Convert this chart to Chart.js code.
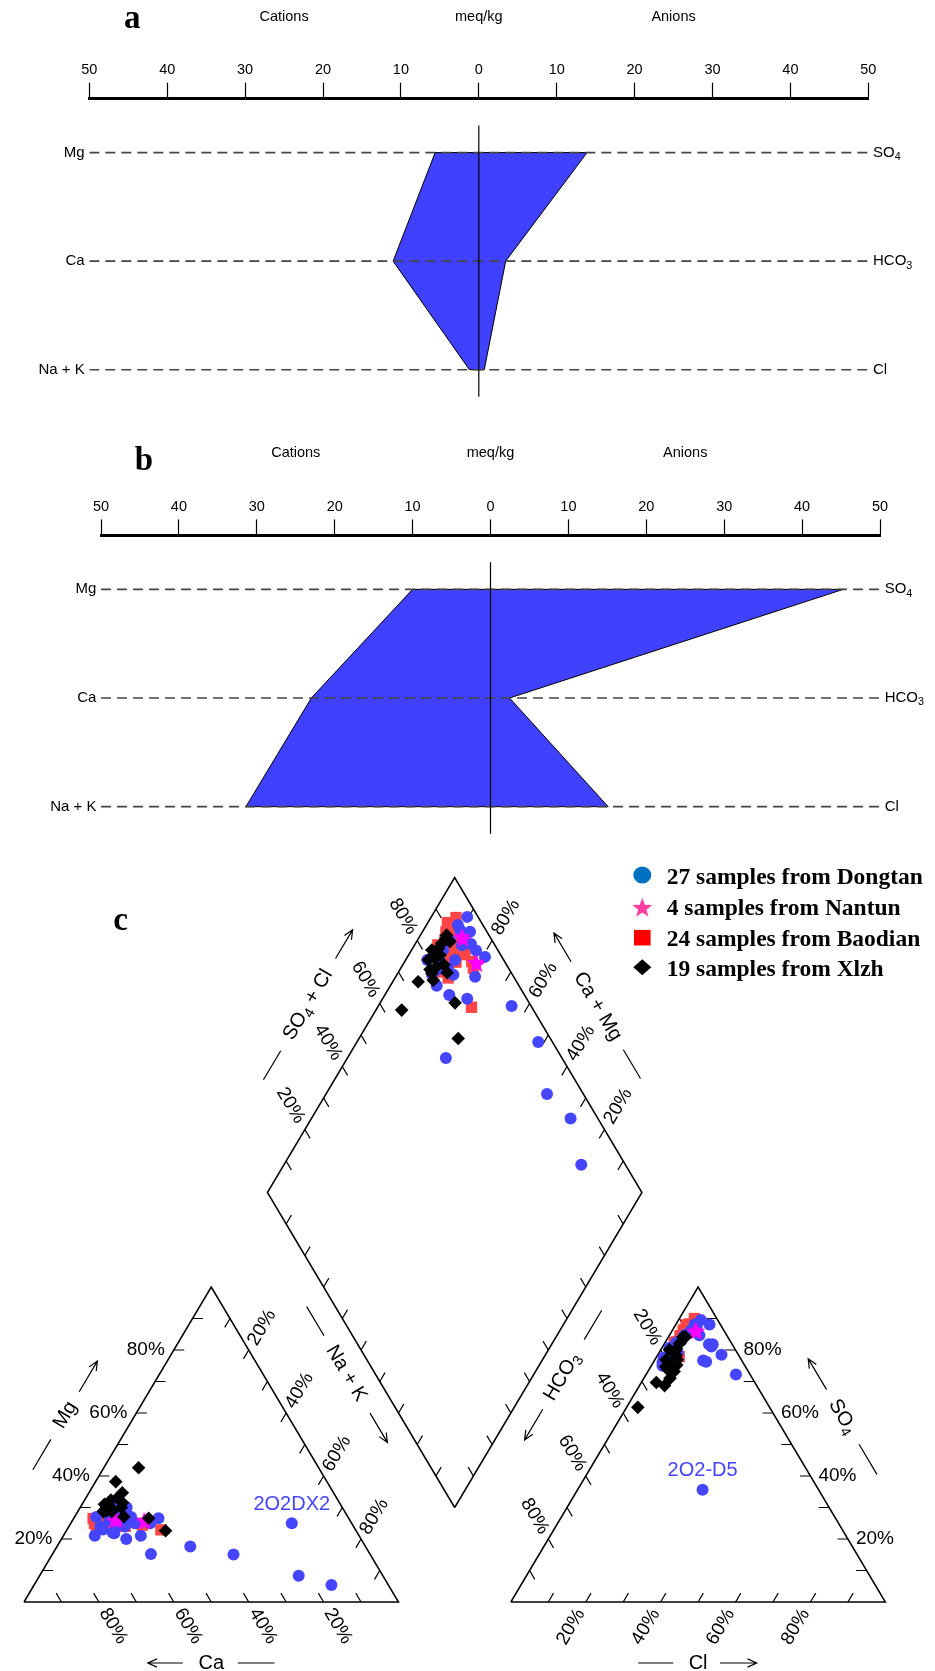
<!DOCTYPE html>
<html lang="en">
<head>
<meta charset="utf-8">
<title>Stiff and Piper diagrams</title>
<script src="https://cdn.jsdelivr.net/npm/chart.js@4.4.1/dist/chart.umd.min.js"></script>
<style>
  html, body { margin: 0; padding: 0; background: #ffffff; }
  #page { position: relative; width: 935px; height: 1671px; overflow: hidden; background: #ffffff; }
  #page canvas { position: absolute; left: 0; }
</style>
</head>
<body>
<div id="page">
  <canvas id="stiffA" width="935" height="424" style="top:0px"></canvas>
  <canvas id="stiffB" width="935" height="441" style="top:420px"></canvas>
  <canvas id="piper" width="935" height="831" style="top:840px"></canvas>
</div>
<script>
const SANS = '"Liberation Sans", Arial, Helvetica, sans-serif';
const SERIF = '"Liberation Serif", "Times New Roman", serif';

// ---------- Stiff diagrams (meq/kg) ----------
const stiffCationNames = ['Mg', 'Ca', 'Na + K'];
const stiffAnionNames = [[['SO'], ['4', true]], [['HCO'], ['3', true]], [['Cl']]];
const stiffHeadings = ['Cations', 'meq/kg', 'Anions'];
const stiffHeadingAt = [-25, 0, 25];
const stiffScaleTicks = [-50, -40, -30, -20, -10, 0, 10, 20, 30, 40, 50];
const stiffACations = [5.6, 11.0, 1.2];    // Mg, Ca, Na + K
const stiffAAnions  = [13.9, 3.45, 0.7];   // SO4, HCO3, Cl
const stiffBCations = [10.0, 23.0, 31.4];
const stiffBAnions  = [45.3, 2.45, 15.1];

// ---------- Piper diagram (% of meq) ----------
const dongtanCa  = [67.4, 64.2, 65.3, 61.1, 62.7, 58.3, 53.8, 67.2, 60.8, 57.6, 57.9, 57.8, 50.8, 46.8, 36.5, 58.5, 16.0, 22.5, 15.2, 67.6, 63.3, 70.6, 60.6, 61.3, 65.0, 63.5, 63.7];
const dongtanMg  = [23, 26, 22, 24, 20, 21, 25, 27, 29, 30, 27, 25, 26.6, 17.6, 15.1, 15.2, 25.0, 8.3, 5.4, 24, 28, 21, 30, 26, 21.8, 27, 23.7];
const dongtanCl  = [9.0, 5.0, 6.0, 12.0, 13.0, 17.0, 13.0, 2.0, 3.0, 3.0, 4.0, 3.0, 5.0, 13.0, 24.0, 33.4, 14.0, 8.0, 4.0, 3.0, 4.0, 6.0, 2.5, 5.0, 4.0, 2.0, 3.0];
const dongtanSO4 = [88.1, 88.1, 89.5, 81.8, 81.1, 78.5, 76.7, 77.6, 78.1, 75.0, 80.2, 76.9, 79.1, 81.8, 72.2, 35.6, 76.3, 84.7, 84.2, 82.4, 84.8, 87.3, 76.0, 86.2, 83.0, 80.7, 80.8];

const nantunCa  = [62.8, 62.0, 54.9, 54.8];
const nantunMg  = [26, 26, 26, 25.5];
const nantunCl  = [6.5, 6.5, 6.3, 6.2];
const nantunSO4 = [86.1, 86.0, 86.0, 86.0];

const baodianCa  = [67.3, 68.3, 63.3, 64.2, 57.1, 56.2, 52.0, 63.4, 67.4, 68.7, 65.4, 66.2, 62.5, 64.2, 63.1, 64.1, 60.8, 64.0, 61.0, 67.8, 64.5, 68.7, 62.7, 61.2];
const baodianMg  = [26, 26.5, 25, 24, 25, 24.4, 22.9, 26, 25, 24, 27, 26, 24, 25, 26, 27, 25, 26, 24, 26, 25, 25, 26, 25];
const baodianCl  = [4, 3, 3.5, 3, 4, 3, 6, 3, 3, 3, 3, 3, 4, 3, 4, 3, 5, 3.5, 4, 2.5, 3, 3, 4, 3.5];
const baodianSO4 = [90, 87.9, 87.3, 82.6, 87.2, 87.6, 77.9, 82.5, 87.9, 84.5, 81.6, 79.2, 86.4, 86.4, 78.8, 76.5, 77.3, 88.3, 86.5, 82.3, 84.5, 86, 77.3, 83.4];

const xlzhCa  = [62.9, 60.6, 62.6, 56.4, 63.0, 63.4, 62.0, 57.9, 59.8, 64.2, 64.4, 53.4, 50.9, 56.4, 59.0, 58.6, 48.1, 62.2, 62.0];
const xlzhMg  = [29.8, 32.4, 30.5, 38.2, 31, 29, 30, 31.5, 27.1, 29, 28.7, 26.6, 22.6, 34.7, 30, 33, 42.6, 28.7, 31];
const xlzhCl  = [3.9, 4, 4, 2.3, 3, 6.7, 5, 7, 6, 4, 3, 7, 6.7, 4.5, 5, 4, 5, 4, 4.5];
const xlzhSO4 = [84.1, 82.1, 80.4, 80.1, 76.9, 75.2, 73.8, 71, 76.9, 69.7, 61.8, 73.2, 68.7, 84.1, 78.3, 79.8, 76, 74.7, 84.2];

const percentTicks = [20, 40, 60, 80];
const piperNotes = [
  { text: '2O2DX2', series: 'Dongtan', index: 16, plot: 'cation' },
  { text: '2O2-D5', series: 'Dongtan', index: 15, plot: 'anion' }
];

// ---------- helpers ----------
function drawRich(ctx, parts, x, y, size, family, align) {
  let total = 0;
  const widths = parts.map(p => {
    ctx.font = (p[1] ? size * 0.72 : size) + 'px ' + family;
    const w = ctx.measureText(p[0]).width;
    total += w;
    return w;
  });
  let cx = align === 'center' ? x - total / 2 : (align === 'right' ? x - total : x);
  ctx.textAlign = 'left';
  ctx.textBaseline = 'middle';
  parts.forEach((p, i) => {
    ctx.font = (p[1] ? size * 0.72 : size) + 'px ' + family;
    ctx.fillText(p[0], cx, y + (p[1] ? size * 0.3 : 0));
    cx += widths[i];
  });
}
function drawRotated(ctx, parts, x, y, angle, size) {
  ctx.save();
  ctx.translate(x, y);
  ctx.rotate(angle);
  drawRich(ctx, parts, 0, 0, size, SANS, 'center');
  ctx.restore();
}
function readable(a) {
  if (a > Math.PI / 2 + 1e-6) return a - Math.PI;
  if (a < -Math.PI / 2 - 1e-6) return a + Math.PI;
  return a;
}
function arrowLine(ctx, x1, y1, x2, y2, head) {
  ctx.beginPath();
  ctx.moveTo(x1, y1);
  ctx.lineTo(x2, y2);
  if (head) {
    const a = Math.atan2(y2 - y1, x2 - x1), h = 10, w = 0.42;
    ctx.moveTo(x2 - h * Math.cos(a - w), y2 - h * Math.sin(a - w));
    ctx.lineTo(x2, y2);
    ctx.lineTo(x2 - h * Math.cos(a + w), y2 - h * Math.sin(a + w));
  }
  ctx.stroke();
}

// ---------- Stiff chart ----------
const stiffDecor = {
  id: 'stiffDecor',
  afterDraw(chart, args, o) {
    const ctx = chart.ctx, xs = chart.scales.x, ys = chart.scales.y;
    const top = chart.chartArea.top;
    ctx.save();
    ctx.fillStyle = '#000';
    ctx.textAlign = 'center';
    ctx.textBaseline = 'middle';
    ctx.font = '14.5px ' + SANS;
    stiffHeadings.forEach((h, i) => ctx.fillText(h, xs.getPixelForValue(stiffHeadingAt[i]), top - 81.6));
    ctx.font = 'bold 33px ' + SERIF;
    ctx.textBaseline = 'alphabetic';
    ctx.fillText(o.letter, xs.getPixelForValue(-44.5), top - o.letterRise);
    stiffCationNames.forEach((n, i) => drawRich(ctx, [[n]], xs.left - 4.6, ys.getPixelForValue(i), 15, SANS, 'right'));
    stiffAnionNames.forEach((parts, i) => drawRich(ctx, parts, xs.right + 4.7, ys.getPixelForValue(i), 15, SANS, 'left'));
    ctx.restore();
  }
};

function makeStiff(id, cations, anions, lay) {
  const outline = [
    { x: -cations[0], y: 0 }, { x: anions[0], y: 0 }, { x: anions[1], y: 1 }, { x: anions[2], y: 2 },
    { x: -cations[2], y: 2 }, { x: -cations[1], y: 1 }, { x: -cations[0], y: 0 }
  ];
  const rowLines = [0, 1, 2].map(r => ({
    data: [{ x: -50, y: r }, { x: 50, y: r }], showLine: true, borderColor: '#454545',
    borderWidth: 1.6, borderDash: [10, 6], pointRadius: 0, order: 1
  }));
  return new Chart(document.getElementById(id), {
    type: 'scatter',
    data: {
      datasets: [
        { data: outline, showLine: true, fill: 'shape', backgroundColor: '#4040FF', borderColor: '#000',
          borderWidth: 1, pointRadius: 0, tension: 0, order: 3 },
        ...rowLines,
        { data: [{ x: 0, y: -0.25 }, { x: 0, y: 2.25 }], showLine: true, borderColor: '#000',
          borderWidth: 1.2, pointRadius: 0, order: 0 }
      ]
    },
    options: {
      responsive: false, animation: false, events: [],
      layout: { autoPadding: false, padding: { left: lay.left, right: lay.right, top: 0, bottom: 0 } },
      plugins: { legend: { display: false }, tooltip: { enabled: false },
                 stiffDecor: { letter: lay.letter, letterRise: lay.letterRise } },
      scales: {
        x: {
          type: 'linear', position: 'top', min: -50, max: 50,
          afterBuildTicks: s => { s.ticks = stiffScaleTicks.map(v => ({ value: v })); },
          afterFit: s => { s.height = lay.axisY; },
          ticks: { callback: v => String(Math.abs(v)), color: '#000', font: { family: SANS, size: 14.5 },
                   padding: 4, maxRotation: 0, autoSkip: false },
          grid: { drawOnChartArea: false, drawTicks: true, tickLength: 15.6, tickWidth: 1.2, tickColor: '#000' },
          border: { display: true, width: 3, color: '#000' }
        },
        y: { type: 'linear', display: false, reverse: true, min: -0.5, max: 2.5 }
      }
    },
    plugins: [stiffDecor]
  });
}

makeStiff('stiffA', stiffACations, stiffAAnions, { left: 89.3, right: 66.7, axisY: 98.3, letter: 'a', letterRise: 70 });
makeStiff('stiffB', stiffBCations, stiffBAnions, { left: 101, right: 55, axisY: 115, letter: 'b', letterRise: 65 });

// ---------- Piper chart ----------
const GAP = 0.3;
const DIA_B = [1 + GAP / 2, GAP], DIA_L = [0.5 + GAP / 2, 1 + GAP];
const DIA_R = [1.5 + GAP / 2, 1 + GAP], DIA_T = [1 + GAP / 2, 2 + GAP];
const TICK = 0.028;
const PIPER_FRAME = { unitX: 374.5, unitY: 315, originX: 24, originY: 762, width: 935, height: 831 };

function cationXY(ca, mg) { const nak = 100 - ca - mg; return { x: (nak + mg / 2) / 100, y: mg / 100 }; }
function anionXY(cl, so4) { return { x: 1 + GAP + (cl + so4 / 2) / 100, y: so4 / 100 }; }
function diamondXY(ca, mg, cl, so4) {
  const c = (ca + mg) / 100, s = (cl + so4) / 100;
  return { x: 1 + GAP / 2 + (s - c) / 2, y: GAP + s + c };
}

function starImage(r, color) {
  const size = Math.ceil(r * 2 + 2);
  const c = document.createElement('canvas');
  c.width = size; c.height = size;
  const g = c.getContext('2d');
  g.translate(size / 2, size / 2 + r * 0.08);
  g.beginPath();
  for (let i = 0; i < 10; i++) {
    const rr = i % 2 ? r * 0.42 : r;
    const a = -Math.PI / 2 + i * Math.PI / 5;
    g.lineTo(rr * Math.cos(a), rr * Math.sin(a));
  }
  g.closePath();
  g.fillStyle = color;
  g.fill();
  return c;
}

const piperSeries = [
  { name: 'Xlzh', ca: xlzhCa, mg: xlzhMg, cl: xlzhCl, so4: xlzhSO4, style: 'rectRot', radius: 6.8, color: '#000000' },
  { name: 'Nantun', ca: nantunCa, mg: nantunMg, cl: nantunCl, so4: nantunSO4, style: starImage(9, '#FF00FF'), radius: 8, color: '#FF00FF' },
  { name: 'Dongtan', ca: dongtanCa, mg: dongtanMg, cl: dongtanCl, so4: dongtanSO4, style: 'circle', radius: 6, color: '#4545FF' },
  { name: 'Baodian', ca: baodianCa, mg: baodianMg, cl: baodianCl, so4: baodianSO4, style: 'rect', radius: 8, color: '#FF4545' }
];

const legendEntries = [
  { series: 'Dongtan', marker: 'circle', color: '#0070C0' },
  { series: 'Nantun', marker: 'star', color: '#FF3FA0' },
  { series: 'Baodian', marker: 'square', color: '#FF0000' },
  { series: 'Xlzh', marker: 'diamond', color: '#000000' }
];

function seriesPoints(s) {
  const pts = [];
  s.ca.forEach((v, i) => pts.push(cationXY(s.ca[i], s.mg[i])));
  s.cl.forEach((v, i) => pts.push(anionXY(s.cl[i], s.so4[i])));
  s.ca.forEach((v, i) => pts.push(diamondXY(s.ca[i], s.mg[i], s.cl[i], s.so4[i])));
  return pts;
}

function tickSegments() {
  const segs = [];
  const add = (p, d) => {
    segs.push({ x: p[0], y: p[1] }, { x: p[0] + d[0] * TICK, y: p[1] + d[1] * TICK }, { x: null, y: null });
  };
  for (let i = 1; i <= 9; i++) {
    const k = i / 10;
    add([0.5 * k, k], [1, 0]);
    add([k, 0], [-0.5, 1]);
    add([0.5 + 0.5 * k, 1 - k], [-0.5, -1]);
    add([1 + GAP + k, 0], [0.5, 1]);
    add([2 + GAP - 0.5 * k, k], [-1, 0]);
    add([1.5 + GAP - 0.5 * k, 1 - k], [0.5, -1]);
    add([DIA_L[0] + 0.5 * k, DIA_L[1] + k], [0.5, -1]);
    add([DIA_R[0] - 0.5 * k, DIA_R[1] + k], [-0.5, -1]);
    add([DIA_L[0] + 0.5 * k, DIA_L[1] - k], [0.5, 1]);
    add([DIA_B[0] + 0.5 * k, DIA_B[1] + k], [-0.5, 1]);
  }
  return segs;
}

const frameStyle = { showLine: true, borderColor: '#000', borderWidth: 1.5, pointRadius: 0, order: 10 };
const frames = [
  [[0, 0], [1, 0], [0.5, 1], [0, 0]],
  [[1 + GAP, 0], [2 + GAP, 0], [1.5 + GAP, 1], [1 + GAP, 0]],
  [DIA_B, DIA_R, DIA_T, DIA_L, DIA_B]
].map(f => Object.assign({ data: f.map(p => ({ x: p[0], y: p[1] })) }, frameStyle));

const tickLabelAxes = [
  { at: p => [0.5 * p, p], out: [-1, 0], gap: 28 },
  { at: p => [1 - p, 0], out: [0.5, -1], gap: 28 },
  { at: p => [0.5 + 0.5 * p, 1 - p], out: [0.5, 1], gap: 26 },
  { at: p => [1 + GAP + p, 0], out: [-0.5, -1], gap: 29 },
  { at: p => [2 + GAP - 0.5 * p, p], out: [1, 0], gap: 27 },
  { at: p => [1.5 + GAP - 0.5 * p, 1 - p], out: [-0.5, 1], gap: 26.5 },
  { at: p => [DIA_L[0] + 0.5 * p, DIA_L[1] + p], out: [-0.5, 1], gap: 28 },
  { at: p => [DIA_R[0] - 0.5 * p, DIA_R[1] + p], out: [0.5, 1], gap: 27 }
];

const catIn = [0.5, 0.33], anIn = [1.5 + GAP, 0.33], diaIn = [1 + GAP / 2, 1 + GAP];
const piperTitles = [
  { parts: [['Mg']], a: [0, 0], b: [0.5, 1], t: 0.496, off: 60, inside: catIn, line: [-63.5, -28.3], arrow: [27.2, 62.8] },
  { parts: [['Ca']], a: [1, 0], b: [0, 0], t: 0.5, off: 61, inside: catIn, line: [-63.3, -26.6], arrow: [28.4, 63.4] },
  { parts: [['Na + K']], a: [0.5, 1], b: [1, 0], t: 0.391, off: 72, inside: catIn, line: [-77.7, -43.7], arrow: [46.3, 80.3] },
  { parts: [['Cl']], a: [1 + GAP, 0], b: [2 + GAP, 0], t: 0.5, off: 61, inside: anIn, line: [-59.8, -24.8], arrow: [21.9, 58.6] },
  { parts: [['SO'], ['4', true]], a: [2 + GAP, 0], b: [1.5 + GAP, 1], t: 0.494, off: 58, inside: anIn, line: [-67, -32], arrow: [31.6, 67.6] },
  { parts: [['HCO'], ['3', true]], a: [1.5 + GAP, 1], b: [1 + GAP, 0], t: 0.40, off: 71, inside: anIn, line: [-77.4, -43.1], arrow: [37.9, 73.5] },
  { parts: [['SO'], ['4', true], [' + Cl']], a: DIA_L, b: DIA_T, t: 0.497, off: 61, inside: diaIn, line: [-87.3, -53.5], arrow: [53.8, 87.2] },
  { parts: [['Ca + Mg']], a: DIA_R, b: DIA_T, t: 0.498, off: 57, inside: diaIn, line: [-83.8, -50.3], arrow: [52, 85.6] }
];

const piperDecor = {
  id: 'piperDecor',
  afterDraw(chart) {
    const ctx = chart.ctx, xs = chart.scales.x, ys = chart.scales.y;
    const P = q => [xs.getPixelForValue(q[0]), ys.getPixelForValue(q[1])];
    const sx = xs.getPixelForValue(1) - xs.getPixelForValue(0);
    const sy = ys.getPixelForValue(0) - ys.getPixelForValue(1);
    const pxDir = d => { const a = d[0] * sx, b = -d[1] * sy, l = Math.hypot(a, b); return [a / l, b / l]; };
    ctx.save();
    ctx.fillStyle = '#000';
    ctx.strokeStyle = '#000';
    ctx.lineWidth = 1.2;

    tickLabelAxes.forEach(ax => {
      const dir = pxDir(ax.out);
      const ang = readable(Math.atan2(dir[1], dir[0]));
      percentTicks.forEach(p => {
        const [x0, y0] = P(ax.at(p / 100));
        drawRotated(ctx, [[p + '%']], x0 + dir[0] * ax.gap, y0 + dir[1] * ax.gap, ang, 19);
      });
    });

    piperTitles.forEach(t => {
      const pa = P(t.a), pb = P(t.b), ins = P(t.inside);
      const len = Math.hypot(pb[0] - pa[0], pb[1] - pa[1]);
      const d = [(pb[0] - pa[0]) / len, (pb[1] - pa[1]) / len];
      const e = [pa[0] + d[0] * t.t * len, pa[1] + d[1] * t.t * len];
      let n = [-d[1], d[0]];
      if ((e[0] - ins[0]) * n[0] + (e[1] - ins[1]) * n[1] < 0) n = [d[1], -d[0]];
      const c = [e[0] + n[0] * t.off, e[1] + n[1] * t.off];
      drawRotated(ctx, t.parts, c[0], c[1], readable(Math.atan2(d[1], d[0])), 20);
      arrowLine(ctx, c[0] + d[0] * t.line[0], c[1] + d[1] * t.line[0], c[0] + d[0] * t.line[1], c[1] + d[1] * t.line[1], false);
      arrowLine(ctx, c[0] + d[0] * t.arrow[0], c[1] + d[1] * t.arrow[0], c[0] + d[0] * t.arrow[1], c[1] + d[1] * t.arrow[1], true);
    });

    piperNotes.forEach(note => {
      const s = piperSeries.find(q => q.name === note.series);
      const q = note.plot === 'cation' ? cationXY(s.ca[note.index], s.mg[note.index])
                                       : anionXY(s.cl[note.index], s.so4[note.index]);
      ctx.fillStyle = '#4545FF';
      drawRich(ctx, [[note.text]], xs.getPixelForValue(q.x), ys.getPixelForValue(q.y) - 19, 20, SANS, 'center');
    });

    // panel letter
    ctx.fillStyle = '#000';
    ctx.font = 'bold 33px ' + SERIF;
    ctx.textAlign = 'center';
    ctx.textBaseline = 'alphabetic';
    ctx.fillText('c', 120.5, 90);

    // legend
    const mx = 642.3, tx = 666.7;
    const markerY = [35, 67.3, 97.7, 127.3], textY = [44, 75, 105.7, 135.7];
    legendEntries.forEach((le, i) => {
      const s = piperSeries.find(q => q.name === le.series);
      const y = markerY[i];
      ctx.fillStyle = le.color;
      ctx.beginPath();
      if (le.marker === 'circle') {
        ctx.ellipse(mx, y, 9, 8.6, 0, 0, Math.PI * 2);
      } else if (le.marker === 'star') {
        for (let k = 0; k < 10; k++) {
          const rr = k % 2 ? 4.3 : 10.5, a = -Math.PI / 2 + k * Math.PI / 5;
          ctx.lineTo(mx + rr * Math.cos(a), y + 1 + rr * Math.sin(a));
        }
        ctx.closePath();
      } else if (le.marker === 'square') {
        ctx.rect(mx - 8.3, y - 7.8, 16.6, 15.6);
      } else {
        ctx.moveTo(mx, y - 8); ctx.lineTo(mx + 9, y); ctx.lineTo(mx, y + 8); ctx.lineTo(mx - 9, y); ctx.closePath();
      }
      ctx.fill();
      ctx.fillStyle = '#000';
      ctx.font = 'bold 23.5px ' + SERIF;
      ctx.textAlign = 'left';
      ctx.textBaseline = 'alphabetic';
      ctx.fillText(s.ca.length + ' samples from ' + s.name, tx, textY[i]);
    });
    ctx.restore();
  }
};

const F = PIPER_FRAME;
new Chart(document.getElementById('piper'), {
  type: 'scatter',
  data: {
    datasets: [
      ...piperSeries.map((s, i) => ({
        data: seriesPoints(s), pointStyle: s.style, pointRadius: s.radius, pointBackgroundColor: s.color,
        pointBorderWidth: 0, pointBorderColor: s.color, order: i
      })),
      ...frames,
      { data: tickSegments(), showLine: true, spanGaps: false, borderColor: '#000', borderWidth: 1.2, pointRadius: 0, order: 11 }
    ]
  },
  options: {
    responsive: false, animation: false, events: [],
    layout: { autoPadding: false, padding: 0 },
    plugins: { legend: { display: false }, tooltip: { enabled: false } },
    scales: {
      x: { type: 'linear', display: false, min: -F.originX / F.unitX, max: (F.width - F.originX) / F.unitX },
      y: { type: 'linear', display: false, min: (F.originY - F.height) / F.unitY, max: F.originY / F.unitY }
    }
  },
  plugins: [piperDecor]
});
</script>
</body>
</html>
